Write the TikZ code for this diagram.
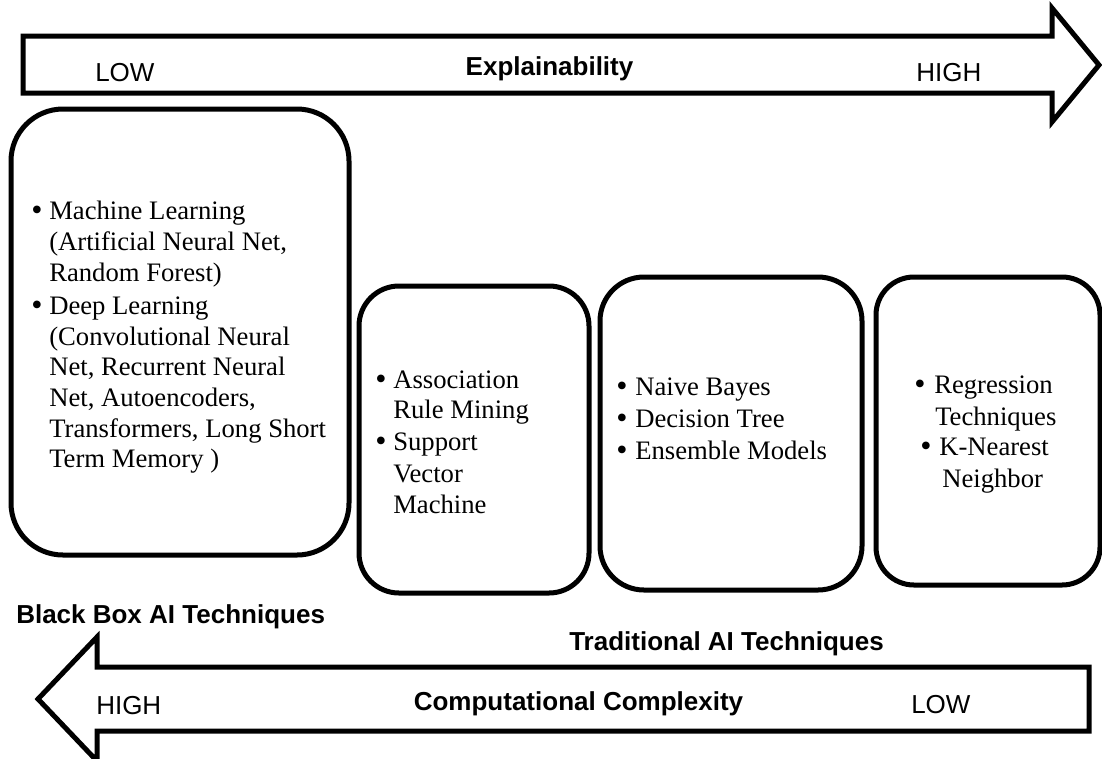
\documentclass[tikz,border=0pt]{standalone}
\usepackage{fontspec}
\setmainfont{Liberation Serif}
\newfontfamily\arialfont{Liberation Sans}
\begin{document}
\begin{tikzpicture}[x=0.75pt,y=-0.75pt,
  frame/.style={draw=black, line width=3.75pt, line join=round},
  arrowshape/.style={draw=black, line width=3.75pt, line join=miter},
  txt/.style={inner sep=0pt, anchor=base west, font=\fontsize{20}{23}\selectfont},
  bul/.style={inner sep=0pt, anchor=base west, font=\fontsize{24}{24}\selectfont, yshift=-0.9pt},
  lab/.style={inner sep=0pt, font=\arialfont\fontsize{19.5}{23}\selectfont},
  blab/.style={inner sep=0pt, font=\arialfont\bfseries\fontsize{19.5}{23}\selectfont}]
\useasboundingbox (0,0) rectangle (1102,758);
\fill[white] (0,0) rectangle (1102,758);

% top arrow
\draw[arrowshape] (23,36) -- (1052,36) -- (1052,8) -- (1099,65) -- (1052,122) -- (1052,93) -- (23,93) -- cycle;
\node[lab, anchor=base west] (tlow) at (95,81) {LOW};
\node[blab, anchor=base] (texpl) at (549.5,75) {Explainability};
\node[lab, anchor=base west] (thigh) at (916,81) {HIGH};

% bottom arrow
\draw[arrowshape] (1089,667) -- (97,667) -- (97,637) -- (38,699) -- (97,761) -- (97,731) -- (1089,731) -- cycle;
\node[lab, anchor=base west] (bhigh) at (96,714) {HIGH};
\node[blab, anchor=base] (bcomp) at (578.5,710) {Computational Complexity};
\node[lab, anchor=base west] (blow) at (911,713) {LOW};

\node[blab, anchor=base west] (blackbox) at (16,623) {Black Box AI Techniques};
\node[blab, anchor=base west] (tradai) at (569,650) {Traditional AI Techniques};

% boxes
\draw[frame, rounded corners=39pt] (11,109) rectangle (349,555);
\draw[frame, rounded corners=30pt] (359,286) rectangle (589,593);
\draw[frame, rounded corners=33pt] (600,277) rectangle (862,590);
\draw[frame, rounded corners=28.5pt] (876,277) rectangle (1100,585);

% box 1 text
\node[bul] (a1b) at (31,219) {\textbullet};
\node[txt] (a1) at (49,219) {Machine Learning};
\node[txt] (a2) at (49,250) {(Artificial Neural Net,};
\node[txt] (a3) at (49,281) {Random Forest)};
\node[bul] (a4b) at (31,314) {\textbullet};
\node[txt] (a4) at (49,314) {Deep Learning};
\node[txt] (a5) at (49,345) {(Convolutional Neural};
\node[txt] (a6) at (49,375) {Net, Recurrent Neural};
\node[txt] (a7) at (49,406) {Net, Autoencoders,};
\node[txt] (a8) at (49,437) {Transformers, Long Short};
\node[txt] (a9) at (49,467) {Term Memory )};

% box 2 text
\node[bul] (c1b) at (375,388) {\textbullet};
\node[txt] (c1) at (393,388) {Association};
\node[txt] (c2) at (393,418) {Rule Mining};
\node[bul] (c3b) at (375,450) {\textbullet};
\node[txt] (c3) at (393,450) {Support};
\node[txt] (c4) at (393,482) {Vector};
\node[txt] (c5) at (393,513) {Machine};

% box 3 text
\node[bul] (d1b) at (616,395) {\textbullet};
\node[txt] (d1) at (635,395) {Naive Bayes};
\node[bul] (d2b) at (616,427) {\textbullet};
\node[txt] (d2) at (635,427) {Decision Tree};
\node[bul] (d3b) at (616,459) {\textbullet};
\node[txt] (d3) at (635,459) {Ensemble Models};

% box 4 text
\node[bul] (e1b) at (914,393) {\textbullet};
\node[txt] (e1) at (934,393) {Regression};
\node[txt] (e2) at (935,425) {Techniques};
\node[bul] (e3b) at (920,455) {\textbullet};
\node[txt] (e3) at (939,455) {K-Nearest};
\node[txt] (e4) at (942,487) {Neighbor};
\end{tikzpicture}
\end{document}
